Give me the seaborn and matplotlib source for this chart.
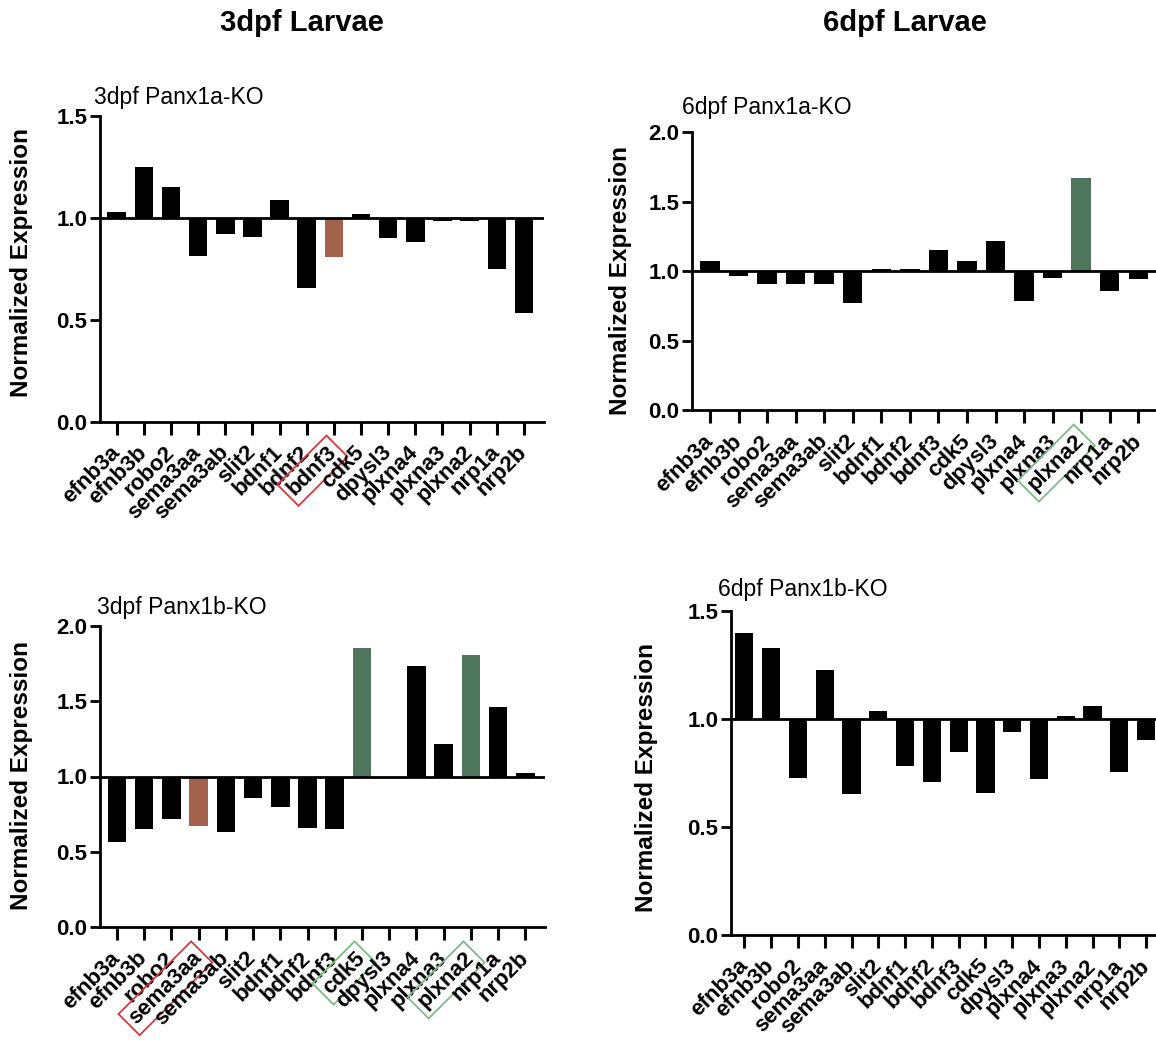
import matplotlib
matplotlib.use("Agg")
import matplotlib.pyplot as plt
import numpy as np
import pandas as pd
import seaborn as sns

# Genes measured by qPCR (same order in every panel)
genes = ["efnb3a", "efnb3b", "robo2", "sema3aa", "sema3ab", "slit2", "bdnf1", "bdnf2",
         "bdnf3", "cdk5", "dpysl3", "plxna4", "plxna3", "plxna2", "nrp1a", "nrp2b"]

# Normalized expression (KO / WT)
expr_3dpf_panx1a = [1.028, 1.25, 1.149, 0.812, 0.922, 0.905, 1.088, 0.654,
                    0.806, 1.02, 0.90, 0.882, 0.982, 0.982, 0.75, 0.534]
expr_6dpf_panx1a = [1.074, 0.967, 0.909, 0.905, 0.912, 0.771, 1.019, 1.014,
                    1.155, 1.074, 1.217, 0.788, 0.95, 1.668, 0.857, 0.945]
expr_3dpf_panx1b = [0.565, 0.653, 0.715, 0.675, 0.633, 0.856, 0.797, 0.657,
                    0.653, 1.853, 1.0, 1.736, 1.214, 1.804, 1.464, 1.02]
expr_6dpf_panx1b = [1.40, 1.329, 0.728, 1.227, 0.653, 1.037, 0.784, 0.708,
                    0.847, 0.659, 0.938, 0.722, 1.012, 1.062, 0.756, 0.901]

column_titles = ["3dpf Larvae", "6dpf Larvae"]
panel_titles = ["3dpf Panx1a-KO", "6dpf Panx1a-KO", "3dpf Panx1b-KO", "6dpf Panx1b-KO"]
y_label = "Normalized Expression"

# Highlighted genes per panel
down_genes = [["bdnf3"], [], ["sema3aa"], []]
up_genes = [[], ["plxna2"], ["cdk5", "plxna2"], []]

BAR_BLACK = "#000000"
DOWN_FILL = "#B05A40"
UP_FILL = "#4A7B5E"
DOWN_BOX = "#D43A3F"
UP_BOX = "#7DBE80"

sns.set_style("ticks")
plt.rcParams["font.family"] = ["Liberation Sans", "DejaVu Sans"]
plt.rcParams["text.color"] = "black"
plt.rcParams["axes.labelcolor"] = "black"
plt.rcParams["xtick.color"] = "black"
plt.rcParams["ytick.color"] = "black"

W, H = 1156, 1045
fig = plt.figure(figsize=(W / 100, H / 100), dpi=100)
fig.patch.set_facecolor("white")

# Panel layout in pixels: left, right, top, bottom, xlim, ymax
layout = [
    dict(l=100, r=544, t=116, b=421.5, xlim=(-0.615, 15.74), ymax=1.5),
    dict(l=691.7, r=1156, t=132, b=410.5, xlim=(-0.64, 15.62), ymax=2.0),
    dict(l=100, r=545, t=625.7, b=927.3, xlim=(-0.62, 15.72), ymax=2.0),
    dict(l=731, r=1156, t=611, b=935, xlim=(-0.5, 15.37), ymax=1.5),
]
series = [expr_3dpf_panx1a, expr_6dpf_panx1a, expr_3dpf_panx1b, expr_6dpf_panx1b]
ylabel_pos = [(22, 262.5), (621, 280), (22, 775), (646, 777.5)]
subtitle_pos = [(94, 104), (682, 114), (97, 614), (718, 596)]

for i, (geo, vals) in enumerate(zip(layout, series)):
    ax = fig.add_axes([geo["l"] / W, 1 - geo["b"] / H,
                       (geo["r"] - geo["l"]) / W, (geo["b"] - geo["t"]) / H])
    colors = {}
    for g in genes:
        if g in down_genes[i]:
            colors[g] = DOWN_FILL
        elif g in up_genes[i]:
            colors[g] = UP_FILL
        else:
            colors[g] = BAR_BLACK
    df = pd.DataFrame({"gene": genes, "value": vals})
    df["delta"] = df["value"] - 1.0
    # bars grow from the 1.0 reference level up to each value
    sns.barplot(data=df, x="gene", y="delta", hue="gene", palette=colors,
                order=genes, hue_order=genes, bottom=1.0, width=0.68,
                errorbar=None, legend=False, linewidth=0, ax=ax)
    ax.axhline(1.0, color="black", lw=2.0, zorder=3)

    ax.set_xlim(*geo["xlim"])
    ax.set_ylim(0, geo["ymax"])
    yt = np.arange(0, geo["ymax"] + 0.01, 0.5)
    ax.set_yticks(yt)
    ax.set_yticklabels([f"{v:.1f}" for v in yt], fontsize=16, fontweight="bold")
    ax.set_xlabel("")
    ax.set_ylabel("")
    for side in ["top", "right"]:
        ax.spines[side].set_visible(False)
    for side in ["left", "bottom"]:
        ax.spines[side].set_linewidth(2.0)
        ax.spines[side].set_color("black")
    ax.tick_params(axis="x", length=9, width=2.2, pad=11, color="black")
    ax.tick_params(axis="y", length=7, width=2.0, pad=2, color="black")
    ax.set_xticks(range(len(genes)))
    ax.set_xticklabels(genes, fontsize=16, fontweight="bold")
    for lbl in ax.get_xticklabels():
        lbl.set_rotation(45)
        lbl.set_ha("right")
        lbl.set_va("center")
        lbl.set_rotation_mode("anchor")
        g = lbl.get_text()
        if g in down_genes[i]:
            lbl.set_bbox(dict(boxstyle="square,pad=0.2", fc="none", ec=DOWN_BOX, lw=1.3))
        elif g in up_genes[i]:
            lbl.set_bbox(dict(boxstyle="square,pad=0.2", fc="none", ec=UP_BOX, lw=1.3))
    ax.set_facecolor("white")

    lx, ly = ylabel_pos[i]
    fig.text(lx / W, 1 - ly / H, y_label, rotation=90, ha="center", va="center",
             fontsize=17.5, fontweight="bold")
    sx, sy = subtitle_pos[i]
    fig.text(sx / W, 1 - sy / H, panel_titles[i], ha="left", va="baseline",
             fontsize=16.5)

fig.text(301.5 / W, 1 - 31 / H, column_titles[0], ha="center", va="baseline",
         fontsize=21, fontweight="bold")
fig.text(905 / W, 1 - 31 / H, column_titles[1], ha="center", va="baseline",
         fontsize=21, fontweight="bold")

fig.savefig("out.png", dpi=100, facecolor="white")
